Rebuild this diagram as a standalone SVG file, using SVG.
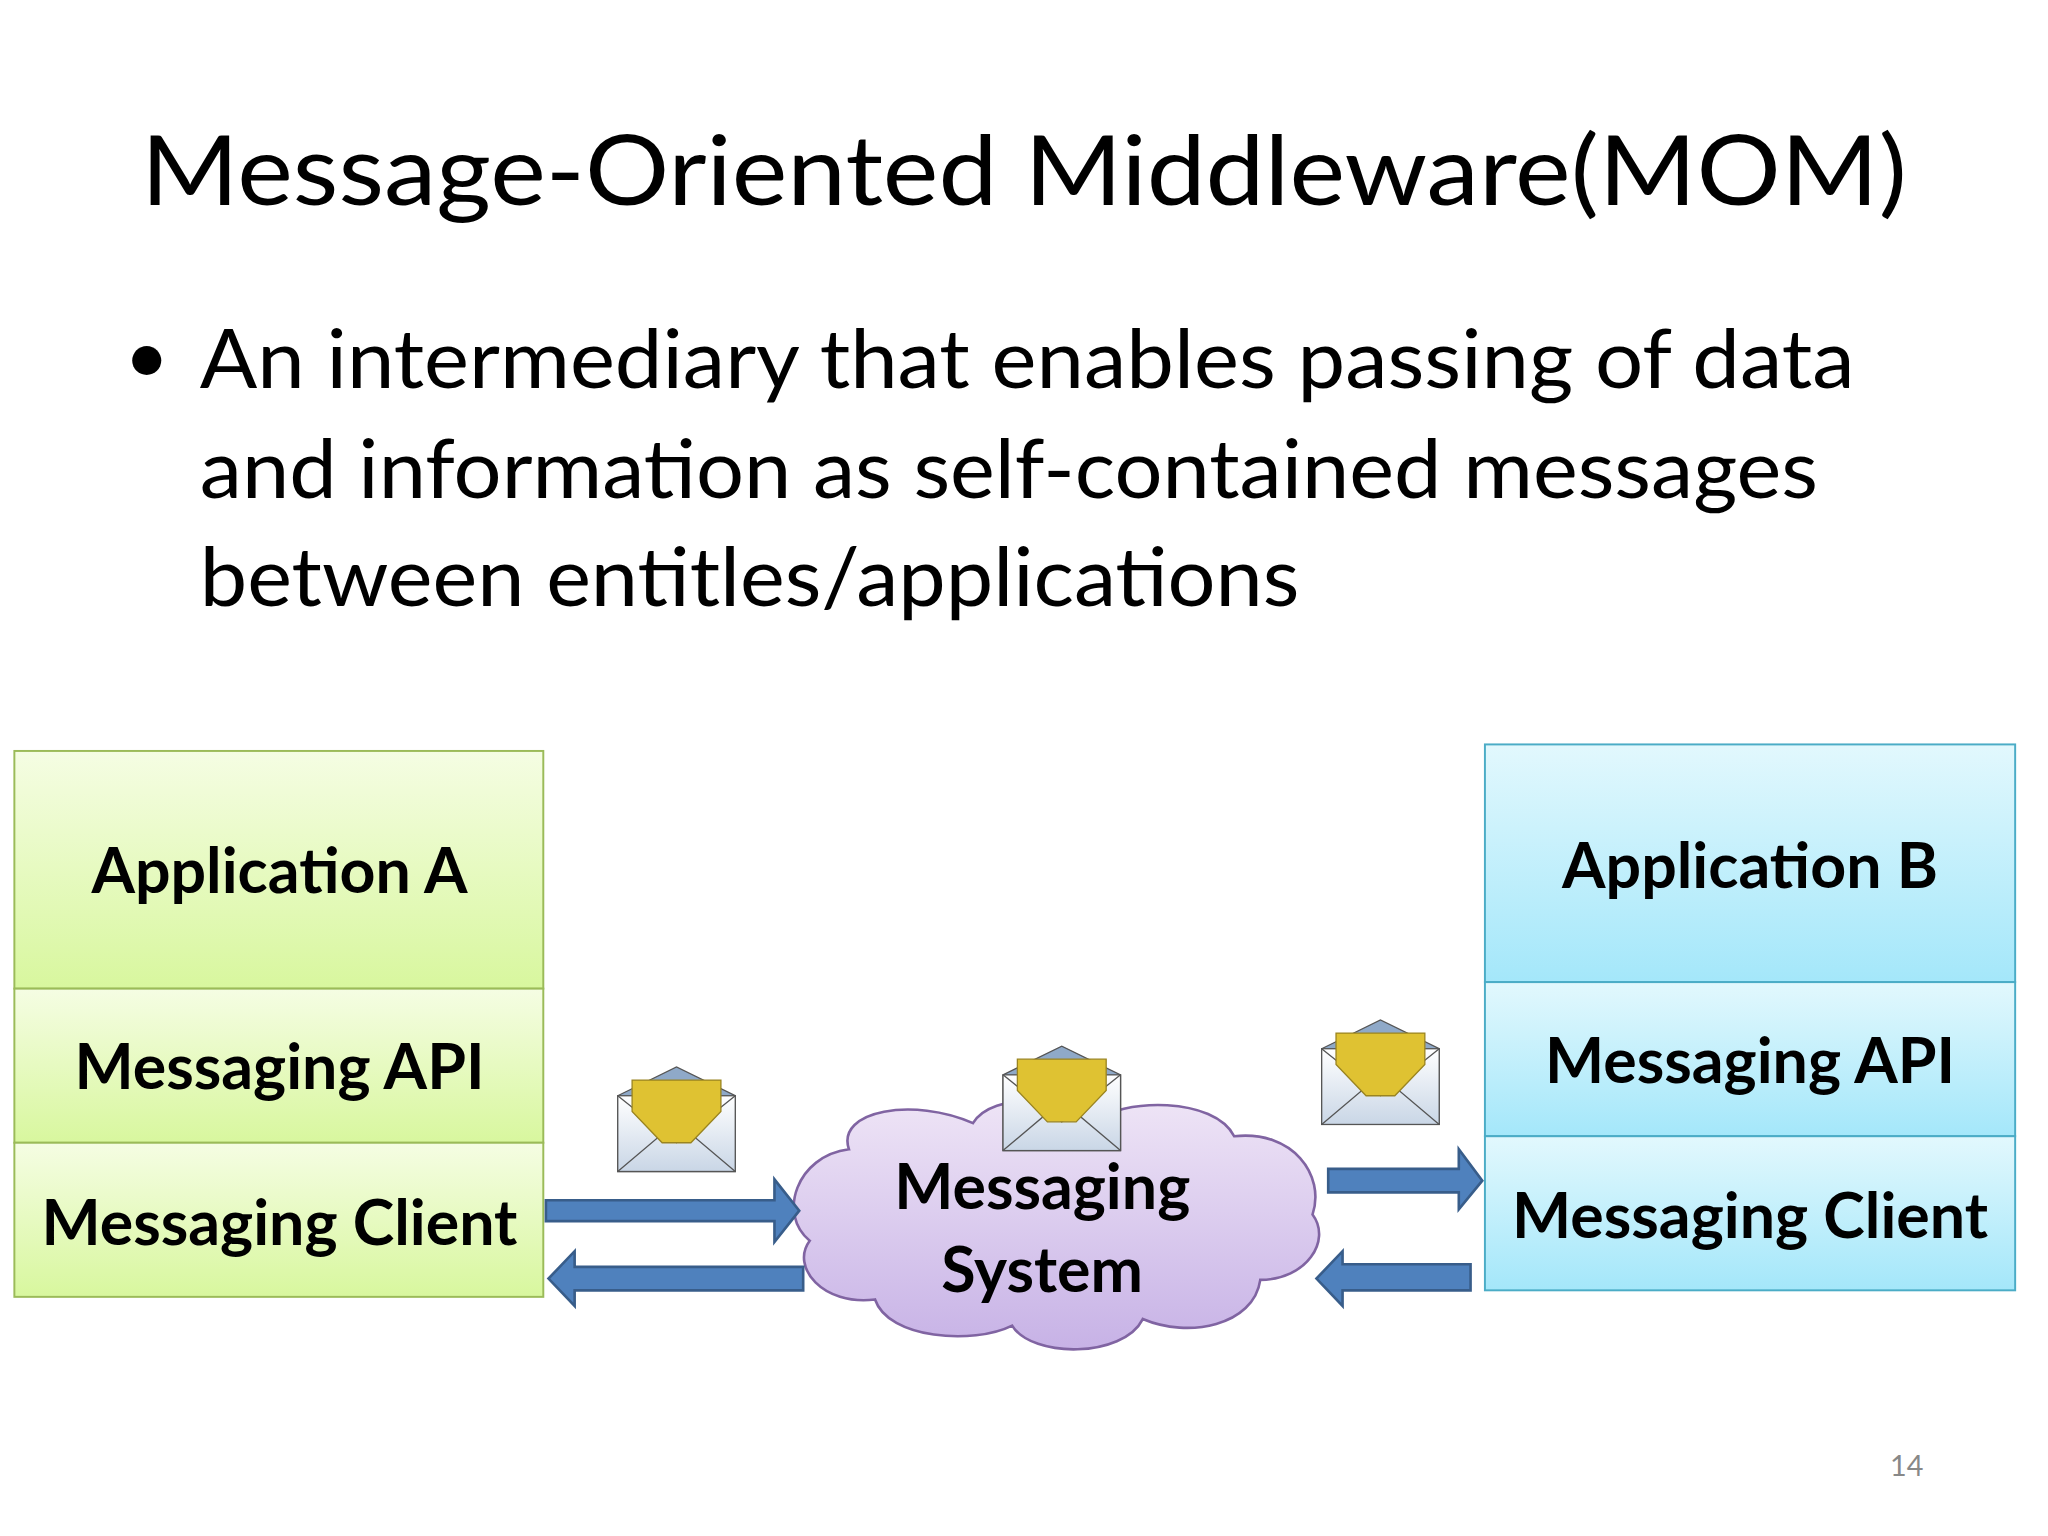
<svg xmlns="http://www.w3.org/2000/svg" width="2048" height="1536" viewBox="0 0 2048 1536">
<style>
.t{font-family:Lato,"Open Sans","Liberation Sans",sans-serif;fill:#000}
.b{font-family:Lato,"Open Sans","Liberation Sans",sans-serif;font-weight:bold;font-size:48px;text-anchor:middle}
.g{fill:url(#gg);stroke:#9bbb59;stroke-width:1.5}
.bl{fill:url(#gb);stroke:#4bacc6;stroke-width:1.5}
.ar{fill:#4f81bd;stroke:#385d8a;stroke-width:2}
</style>
<defs>
<linearGradient id="gg" x1="0" y1="0" x2="0" y2="1"><stop offset="0" stop-color="#f5fde3"/><stop offset="1" stop-color="#d8f79e"/></linearGradient>
<linearGradient id="gb" x1="0" y1="0" x2="0" y2="1"><stop offset="0" stop-color="#e2f8fd"/><stop offset="1" stop-color="#a4e7fa"/></linearGradient>
<linearGradient id="gc" x1="0" y1="0" x2="0" y2="1"><stop offset="0" stop-color="#eee4f6"/><stop offset="1" stop-color="#c7b2e6"/></linearGradient>
<linearGradient id="ge" x1="0" y1="0" x2="0" y2="1"><stop offset="0" stop-color="#ffffff"/><stop offset="1" stop-color="#c9d6e6"/></linearGradient>
<g id="env">
<path d="M0,22 L45,0 L90,22 L90,80 L0,80 Z" fill="#8fa9c8" stroke="#555" stroke-width="1"/>
<rect x="0" y="22" width="90" height="58" fill="url(#ge)" stroke="#555" stroke-width="1"/>
<path d="M0,80 L45,42 L90,80" fill="none" stroke="#555" stroke-width="1"/>
<path d="M0,22 L45,58 L90,22" fill="none" stroke="#555" stroke-width="1"/>
<path d="M11,10 L79,10 L79,34 L56,58 L34,58 L11,34 Z" fill="#dfc232" stroke="#9a8420" stroke-width="1"/>
</g>
</defs>
<rect width="2048" height="1536" fill="#fff"/>
<g transform="scale(1.306)">
<text class="t" x="108" y="157" font-size="74" textLength="1352" lengthAdjust="spacingAndGlyphs">Message-Oriented Middleware(MOM)</text>
<text class="t" x="95" y="294" font-size="60">•</text>
<text class="t" x="153" y="297" font-size="62" textLength="1267" lengthAdjust="spacingAndGlyphs">An intermediary that enables passing of data</text>
<text class="t" x="153" y="381" font-size="62" textLength="1239" lengthAdjust="spacingAndGlyphs">and information as self-contained messages</text>
<text class="t" x="153" y="464" font-size="62" textLength="842" lengthAdjust="spacingAndGlyphs">between entitles/applications</text>

<g id="appA">
<rect class="g" x="11" y="575" width="405" height="182"/>
<text class="b" x="214" y="684">Application A</text></g>
<g id="apiA">
<rect class="g" x="11" y="757" width="405" height="118"/>
<text class="b" x="214" y="834">Messaging API</text></g>
<g id="clientA">
<rect class="g" x="11" y="875" width="405" height="118"/>
<text class="b" x="214" y="953">Messaging Client</text></g>

<g id="appB">
<rect class="bl" x="1137" y="570" width="406" height="182"/>
<text class="b" x="1340" y="680">Application B</text></g>
<g id="apiB">
<rect class="bl" x="1137" y="752" width="406" height="118"/>
<text class="b" x="1340" y="829">Messaging API</text></g>
<g id="clientB">
<rect class="bl" x="1137" y="870" width="406" height="118"/>
<text class="b" x="1340" y="948">Messaging Client</text></g>

<g id="cloud">
<path d="M650,880 C640,850 700,840 745,860 C760,835 820,840 835,860 C860,840 930,840 945,870 C990,865 1015,900 1005,930 C1020,950 1000,980 965,980 C960,1015 910,1025 875,1010 C860,1040 790,1040 775,1015 C745,1030 680,1025 670,995 C630,1000 605,970 620,950 C595,930 610,885 650,880 Z" fill="url(#gc)" stroke="#8064a2" stroke-width="2"/>
<text class="b" x="798" y="926">Messaging</text>
<text class="b" x="798" y="989">System</text>
</g>

<g id="connectors">
<path class="ar" d="M418,919 L593,919 L593,903 L612,927 L593,951 L593,935 L418,935 Z"/>
<path class="ar" d="M615,970 L440,970 L440,958 L420,979 L440,1000 L440,988 L615,988 Z"/>
<path class="ar" d="M1017,895 L1117,895 L1117,880 L1135,904 L1117,926 L1117,913 L1017,913 Z"/>
<path class="ar" d="M1126,968 L1028,968 L1028,958 L1008,979 L1028,1000 L1028,988 L1126,988 Z"/>
</g>

<use href="#env" x="473" y="817"/>
<use href="#env" x="768" y="801"/>
<use href="#env" x="1012" y="781"/>

<text x="1460" y="1130" font-family="Lato,'Liberation Sans',sans-serif" font-size="22" fill="#888" text-anchor="middle">14</text>
</g>
</svg>
